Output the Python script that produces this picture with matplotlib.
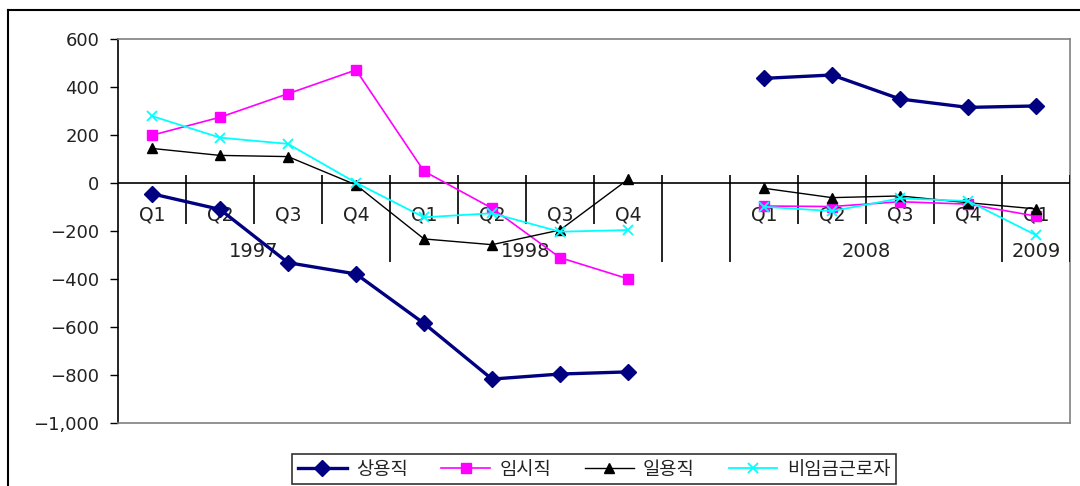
import numpy as np
import matplotlib.pyplot as plt
from matplotlib.lines import Line2D
from matplotlib.ticker import FuncFormatter

# 숫자는 DejaVu, 한글은 Noto CJK로
plt.rcParams['font.family'] = ['DejaVu Sans', 'Noto Sans CJK KR']
plt.rcParams['font.size'] = 12

# 분기 (1997~1998, 공백, 2008~2009)
quarters = ['Q1', 'Q2', 'Q3', 'Q4', 'Q1', 'Q2', 'Q3', 'Q4', '', 'Q1', 'Q2', 'Q3', 'Q4', 'Q1']
years = ['1997', '1998', '', '2008', '2009']
year_spans = [(0, 4), (4, 8), (8, 9), (9, 13), (13, 14)]

nan = np.nan
regular = [-45, -110, -332, -379, -585, -817, -796, -787, nan, 436, 450, 350, 315, 321]
temporary = [199, 274, 372, 471, 49, -105, -311, -399, nan, -96, -98, -78, -88, -138]
daily = [144, 115, 110, -8, -233, -257, -196, 15, nan, -22, -61, -54, -82, -108]
nonwage = [279, 189, 163, 1, -143, -126, -203, -196, nan, -99, -117, -64, -75, -217]

series_names = ['상용직', '임시직', '일용직', '비임금근로자']

fig = plt.figure(figsize=(10.8, 4.86), dpi=100)
ax = fig.add_axes([118 / 1080, 1 - 423 / 486, 952 / 1080, 384 / 486])

x = np.arange(len(quarters))
ax.plot(x, regular, color='#000080', lw=2.4, marker='D', ms=8, label=series_names[0], zorder=5)
ax.plot(x, temporary, color='#ff00ff', lw=1.2, marker='s', ms=6.5, label=series_names[1], zorder=4)
ax.plot(x, daily, color='black', lw=1.0, marker='^', ms=7, label=series_names[2], zorder=4)
ax.plot(x, nonwage, color='#00ffff', lw=1.3, marker='x', ms=7, mew=1.3, label=series_names[3], zorder=4)

ax.set_xlim(-0.5, len(quarters) - 0.5)
ax.set_ylim(-1000, 600)
ax.set_yticks(np.arange(-1000, 601, 200))
ax.yaxis.set_major_formatter(FuncFormatter(lambda v, p: f'{v:,.0f}'.replace('-', '\u2212')))
ax.tick_params(axis='y', direction='out', length=5.5, width=1, pad=8, labelsize=13,
               labelcolor='#222222')
ax.set_xticks([])

for side in ['top', 'right', 'bottom']:
    ax.spines[side].set_color('#808080')
    ax.spines[side].set_linewidth(1.2)
ax.spines['left'].set_color('black')
ax.spines['left'].set_linewidth(1.2)

# 0 기준 가로축
ax.axhline(0, color='black', lw=1.2, zorder=3)

# 분기 구분선과 연도 구분선
year_edges = sorted({e for span in year_spans for e in span})
for b in range(1, len(quarters) + 1):
    edge = b - 0.5
    if b in year_edges:
        ax.vlines(edge, -330, 33, color='black', lw=1.2, zorder=3)
    else:
        ax.vlines(edge, -170, 33, color='black', lw=1.2, zorder=3)

for i, q in enumerate(quarters):
    ax.annotate(q, xy=(i, 0), xytext=(0, -23), textcoords='offset points',
                ha='center', va='center', fontsize=13.5, color='#222222')
for yr, (s, e) in zip(years, year_spans):
    ax.annotate(yr, xy=((s + e - 1) / 2, 0), xytext=(0, -49), textcoords='offset points',
                ha='center', va='center', fontsize=14, color='#222222')

leg = fig.legend(loc='center', bbox_to_anchor=(594 / 1080, 1 - 469 / 486), ncol=4,
                 fontsize=13.5, frameon=True, fancybox=False, handlelength=2.6,
                 handletextpad=0.5, columnspacing=1.8, borderpad=0.3, borderaxespad=0)
leg.get_frame().set_edgecolor('black')
leg.get_frame().set_linewidth(1.2)
for t in leg.get_texts():
    t.set_color('#222222')

# 바깥 테두리
fig.add_artist(Line2D([8 / 1080, 1], [1 - 10 / 486] * 2, color='black', lw=1.5,
                      transform=fig.transFigure))
fig.add_artist(Line2D([8 / 1080] * 2, [0, 1 - 10 / 486], color='black', lw=1.5,
                      transform=fig.transFigure))

fig.savefig('out.png', dpi=100)
